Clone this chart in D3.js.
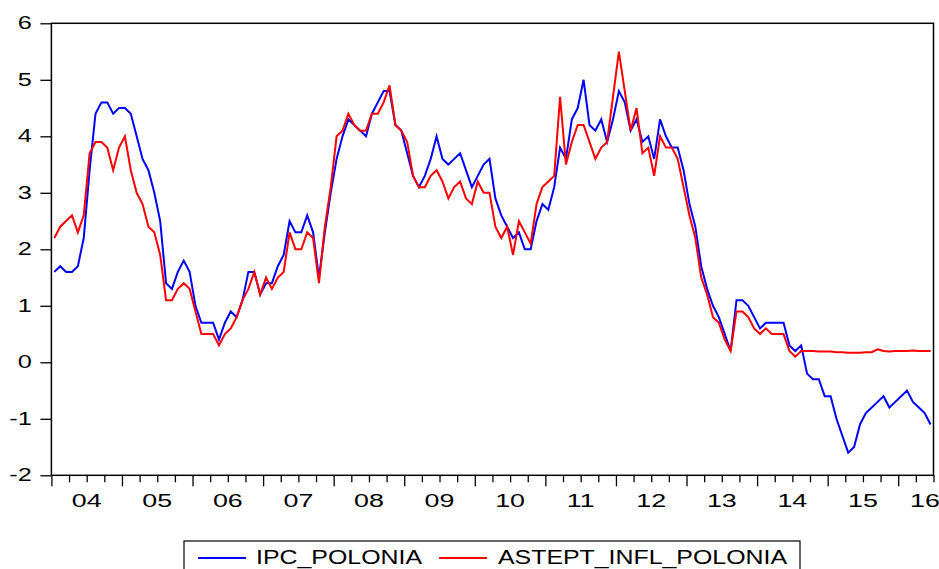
<!DOCTYPE html>
<html>
<head>
<meta charset="utf-8">
<script src="https://cdn.jsdelivr.net/npm/d3@7"></script>
<style>
  html, body { margin: 0; padding: 0; background: #fff; }
  svg { display: block; }
  text { font-family: "Liberation Sans", Arial, sans-serif; fill: #000; }
</style>
</head>
<body>
<svg id="chart" width="939" height="569"></svg>
<script>
// Monthly observations, 2004M01 .. 2016M06
const startYear = 2004;
const yearLabels = ["04","05","06","07","08","09","10","11","12","13","14","15","16"];
const yTicks = [-2, -1, 0, 1, 2, 3, 4, 5, 6];
const seriesNames = ["IPC_POLONIA", "ASTEPT_INFL_POLONIA"];

const ipcPolonia = [
  1.6,1.7,1.6,1.6,1.7,2.2,3.4,4.4,4.6,4.6,4.4,4.5,
  4.5,4.4,4.0,3.6,3.4,3.0,2.5,1.4,1.3,1.6,1.8,1.6,
  1.0,0.7,0.7,0.7,0.4,0.7,0.9,0.8,1.1,1.6,1.6,1.2,
  1.4,1.4,1.7,1.9,2.5,2.3,2.3,2.6,2.3,1.5,2.3,3.0,
  3.6,4.0,4.3,4.2,4.1,4.0,4.4,4.6,4.8,4.8,4.2,4.1,
  3.7,3.3,3.1,3.3,3.6,4.0,3.6,3.5,3.6,3.7,3.4,3.1,
  3.3,3.5,3.6,2.9,2.6,2.4,2.2,2.3,2.0,2.0,2.5,2.8,
  2.7,3.1,3.8,3.6,4.3,4.5,5.0,4.2,4.1,4.3,3.9,4.3,
  4.8,4.6,4.1,4.3,3.9,4.0,3.6,4.3,4.0,3.8,3.8,3.4,
  2.8,2.4,1.7,1.3,1.0,0.8,0.5,0.2,1.1,1.1,1.0,0.8,
  0.6,0.7,0.7,0.7,0.7,0.3,0.2,0.3,-0.2,-0.3,-0.3,-0.6,
  -0.6,-1.0,-1.3,-1.6,-1.5,-1.1,-0.9,-0.8,-0.7,-0.6,-0.8,-0.7,
  -0.6,-0.5,-0.7,-0.8,-0.9,-1.1
];

const asteptInflPolonia = [
  2.2,2.4,2.5,2.6,2.3,2.6,3.7,3.9,3.9,3.8,3.4,3.8,
  4.0,3.4,3.0,2.8,2.4,2.3,1.9,1.1,1.1,1.3,1.4,1.3,
  0.9,0.5,0.5,0.5,0.3,0.5,0.6,0.8,1.1,1.3,1.6,1.2,
  1.5,1.3,1.5,1.6,2.3,2.0,2.0,2.3,2.2,1.4,2.4,3.1,
  4.0,4.1,4.4,4.2,4.1,4.1,4.4,4.4,4.6,4.9,4.2,4.1,
  3.9,3.3,3.1,3.1,3.3,3.4,3.2,2.9,3.1,3.2,2.9,2.8,
  3.2,3.0,3.0,2.4,2.2,2.4,1.9,2.5,2.3,2.1,2.8,3.1,
  3.2,3.3,4.7,3.5,3.9,4.2,4.2,3.9,3.6,3.8,3.9,4.7,
  5.5,4.8,4.1,4.5,3.7,3.8,3.3,4.0,3.8,3.8,3.6,3.1,
  2.6,2.2,1.5,1.2,0.8,0.7,0.4,0.2,0.9,0.9,0.8,0.6,
  0.5,0.6,0.5,0.5,0.5,0.2,0.1,0.2,0.2,0.2,0.19,0.19,
  0.19,0.18,0.18,0.17,0.17,0.17,0.18,0.18,0.23,0.2,0.19,0.2,
  0.2,0.2,0.21,0.2,0.2,0.2
];

const nObs = ipcPolonia.length;
const months = d3.range(nObs).map(i => {
  const y = startYear + Math.floor(i / 12), m = (i % 12) + 1;
  return y + "M" + String(m).padStart(2, "0");
});

const W = 939, H = 569;
const plot = { left: 51.4, right: 933.5, top: 23.3, bottom: 475.3 };
const SX = 1.45; // horizontal stretch of glyphs in the reference

const svg = d3.select("#chart");

const x = d3.scaleLinear().domain([0, nObs]).range([plot.left, plot.right]);
const y = d3.scaleLinear().domain([-2, 6]).range([plot.bottom, plot.top]);

// Y axis
const yAxis = svg.append("g")
  .attr("transform", `translate(${plot.left},0)`)
  .call(d3.axisLeft(y).tickValues(yTicks).tickSize(11).tickFormat(d => String(d)));
yAxis.select(".domain").remove();
yAxis.selectAll(".tick line").attr("stroke", "#000").attr("stroke-width", 1.3);
yAxis.selectAll(".tick text")
  .attr("x", null).attr("dy", null)
  .attr("text-anchor", "end")
  .attr("font-size", 17.5)
  .attr("font-family", "Liberation Sans, Arial, sans-serif")
  .attr("transform", `translate(-19.5,5.2) scale(${SX},1)`);

// X axis: quarter ticks, long ticks at year starts
const qTicks = d3.range(0, nObs + 1, 3);
const xAxis = svg.append("g")
  .attr("transform", `translate(0,${plot.bottom})`)
  .call(d3.axisBottom(x).tickValues(qTicks).tickSize(7).tickFormat(""));
xAxis.select(".domain").remove();
xAxis.selectAll(".tick line")
  .attr("stroke", "#000").attr("stroke-width", 1.3)
  .attr("y2", d => (d % 12 === 0) ? 11 : 7);

// Year labels centred in each year span
const labelPos = yearLabels.map((lab, k) => {
  let cx = x(k * 12 + 6);
  return { lab, cx: Math.min(cx, W - 14) };
});
svg.append("g").selectAll("text").data(labelPos).join("text")
  .attr("text-anchor", "middle")
  .attr("font-size", 18.5)
  .attr("transform", d => `translate(${d.cx},506.7) scale(${SX},1)`)
  .text(d => d.lab);

// Lines
const line = data => d3.line()
  .x((d, i) => x(i + 0.5))
  .y(d => y(d))(data);

const g = svg.append("g");
g.append("path").attr("d", line(ipcPolonia))
  .attr("fill", "none").attr("stroke", "#0000ff").attr("stroke-width", 2)
  .attr("stroke-linejoin", "miter");
g.append("path").attr("d", line(asteptInflPolonia))
  .attr("fill", "none").attr("stroke", "#ff0000").attr("stroke-width", 2)
  .attr("stroke-linejoin", "miter");

// Frame
svg.append("rect")
  .attr("x", plot.left).attr("y", plot.top)
  .attr("width", plot.right - plot.left).attr("height", plot.bottom - plot.top)
  .attr("fill", "none").attr("stroke", "#000").attr("stroke-width", 1.5);

// Legend
const lg = svg.append("g");
lg.append("rect").attr("x", 184).attr("y", 541).attr("width", 616).attr("height", 40)
  .attr("fill", "#fff").attr("stroke", "#000").attr("stroke-width", 1.2);
const legendItems = [
  { name: seriesNames[0], color: "#0000ff", lx: 198, tx: 256, tw: 166 },
  { name: seriesNames[1], color: "#ff0000", lx: 439, tx: 498, tw: 289 }
];
legendItems.forEach(it => {
  lg.append("line").attr("x1", it.lx).attr("x2", it.lx + 48)
    .attr("y1", 558).attr("y2", 558)
    .attr("stroke", it.color).attr("stroke-width", 2);
  lg.append("text").attr("x", it.tx).attr("y", 564.3)
    .attr("font-size", 19.5)
    .attr("textLength", it.tw).attr("lengthAdjust", "spacingAndGlyphs")
    .text(it.name);
});
</script>
</body>
</html>
